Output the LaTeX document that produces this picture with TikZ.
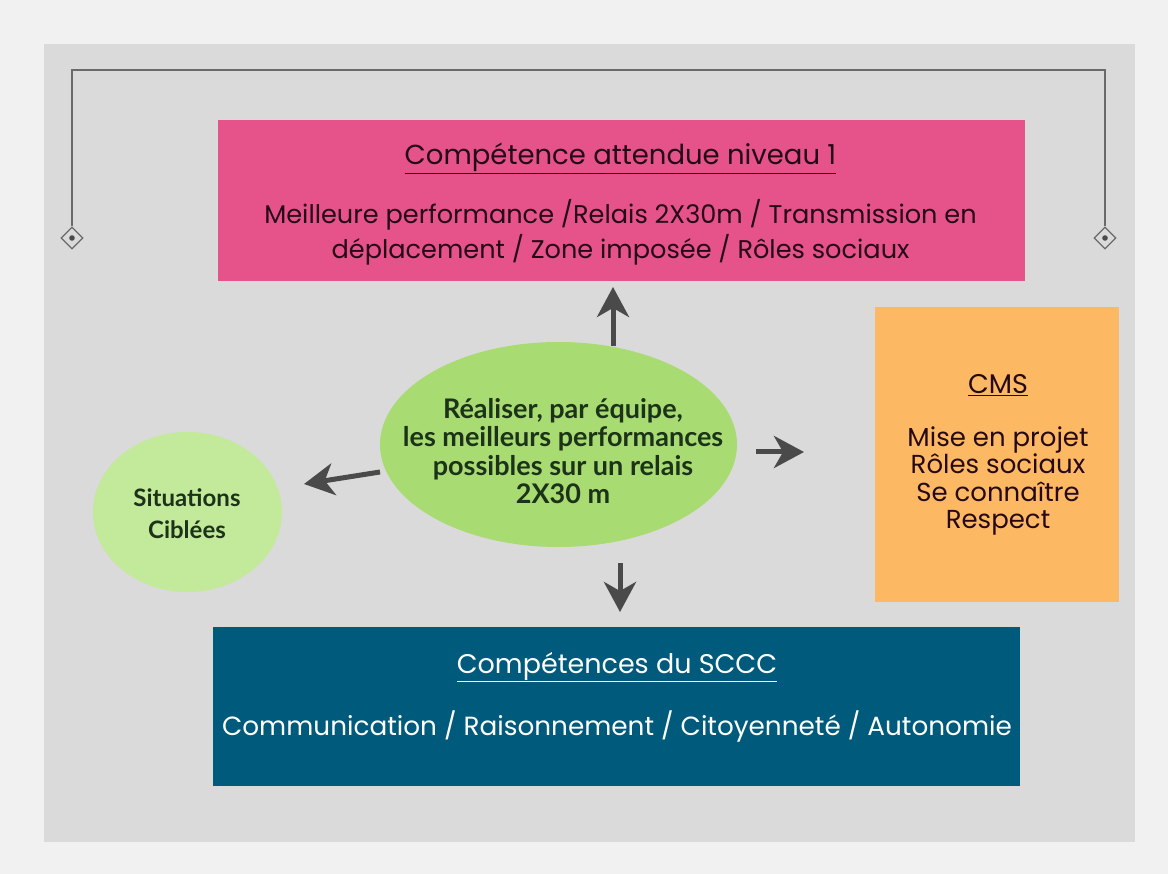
\documentclass[tikz,border=0pt]{standalone}
\usepackage{fontspec}
\setmainfont{Poppins}
\newfontfamily\gillf{Lato}
\usetikzlibrary{arrows.meta,shapes.geometric}
\definecolor{outerbg}{HTML}{F1F1F1}
\definecolor{panel}{HTML}{DADADA}
\definecolor{pinkc}{HTML}{E6528A}
\definecolor{orangec}{HTML}{FDB863}
\definecolor{greenc}{HTML}{A8DB72}
\definecolor{lgreenc}{HTML}{C3E99A}
\definecolor{bluec}{HTML}{005A7B}
\definecolor{arrowc}{HTML}{4A4A4A}
\definecolor{pinktext}{HTML}{250A16}
\definecolor{greentext}{HTML}{1C3319}
\definecolor{bracketc}{HTML}{6A6A6A}
\tikzset{
  box/.style={rectangle, draw=none, inner sep=0pt},
  bigarrow/.style={draw=arrowc, line width=5pt, -{Stealth[length=30pt,width=32pt,inset=9pt]}},
  marker/.style={diamond, draw=bracketc, line width=1.3pt, fill=panel, minimum width=22pt, minimum height=22pt, inner sep=0pt},
  bline/.style={draw=bracketc, line width=1.1pt},
}
\begin{document}
\begin{tikzpicture}[x=1pt,y=-1pt]
\fill[outerbg] (0,0) rectangle (1168,874);
\fill[panel] (44,44) rectangle (1135,842);
% bracket
\node[marker] (ml) at (72,238) {};
\node[marker] (mr) at (1105,238) {};
\fill[arrowc] (ml.center) circle (2.8pt);
\fill[arrowc] (mr.center) circle (2.8pt);
\coordinate (bl) at (72,70);
\coordinate (br) at (1105,70);
\draw[bline] (ml.north) -- (bl) -- (br) -- (mr.north);
% boxes
\node[box, fill=pinkc, minimum width=807pt, minimum height=161pt] (pink) at (621.5,200.5) {};
\node[box, fill=bluec, minimum width=807pt, minimum height=159pt] (blue) at (616.5,706.5) {};
\node[box, fill=orangec, minimum width=244pt, minimum height=295pt] (orange) at (997,454.5) {};
\node[ellipse, fill=greenc, minimum width=357pt, minimum height=205pt, inner sep=0pt] (ell) at (558.5,444.5) {};
\node[ellipse, fill=lgreenc, minimum width=189pt, minimum height=160pt, inner sep=0pt] (circ) at (187.5,512) {};
% pink texts
\node[text=pinktext, font=\fontsize{27.5}{30}\selectfont] (pt) at (620.5,158) {\underline{Compétence attendue niveau 1}};
\node[text=pinktext, font=\fontsize{25.6}{35}\selectfont, align=center] (pb) at (620.5,232) {Meilleure performance /Relais 2X30m / Transmission en\\déplacement / Zone imposée / Rôles sociaux};
% blue texts
\node[text=white, font=\fontsize{27}{30}\selectfont] (bt) at (617,667) {\underline{Compétences du SCCC}};
\node[text=white, font=\fontsize{26.3}{30}\selectfont] (bb) at (617,727) {Communication / Raisonnement / Citoyenneté / Autonomie};
% orange texts
\node[text=pinktext, font=\fontsize{27}{30}\selectfont] (ot) at (998,385) {\underline{CMS}};
\node[text=pinktext, font=\fontsize{26}{27.5}\selectfont, align=center] (ob) at (998,481) {Mise en projet\\Rôles sociaux\\Se connaître\\Respect};
% ellipse text
\node[text=greentext, font=\gillf\bfseries\fontsize{27}{28.5}\selectfont, align=center] (et) at (563,451) {Réaliser, par équipe,\\les meilleurs performances\\possibles sur un relais\\2X30 m};
\node[text=greentext, font=\gillf\bfseries\fontsize{24}{32}\selectfont, align=center] (ct) at (187,514) {Situations\\Ciblées};
% arrows
\coordinate (u1) at (613,346);
\coordinate (u2) at (613,287);
\coordinate (d1) at (620,563);
\coordinate (d2) at (620,612);
\coordinate (l1) at (380,472);
\coordinate (l2) at (304,484);
\coordinate (r1) at (756,452);
\coordinate (r2) at (804,452);
\draw[bigarrow] (u1) -- (u2);
\draw[bigarrow] (d1) -- (d2);
\draw[bigarrow] (l1) -- (l2);
\draw[bigarrow] (r1) -- (r2);
\end{tikzpicture}
\end{document}
